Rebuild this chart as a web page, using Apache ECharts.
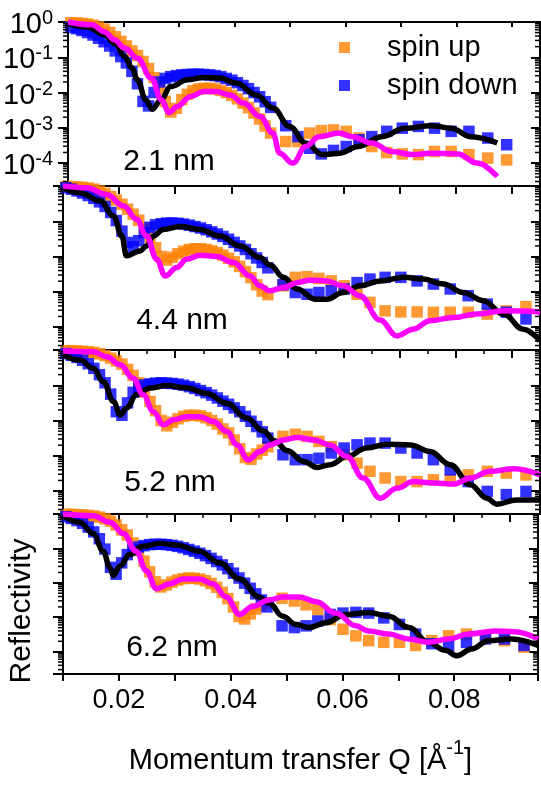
<!DOCTYPE html>
<html>
<head>
<meta charset="utf-8">
<script src="https://cdn.jsdelivr.net/npm/echarts@6/dist/echarts.min.js"></script>
<style>
    html, body { margin: 0; padding: 0; background: #fff; }
    #chart { width: 541px; height: 785px; }
</style>
</head>
<body>
<div id="chart"></div>
<script>
// Q values of the measured points (1/A)
var dataQ = [0.0105, 0.0115, 0.0125, 0.0135, 0.0145, 0.0155, 0.0165, 0.0175, 0.0185, 0.0195,
    0.0205, 0.0215, 0.0225, 0.0235, 0.0245, 0.0255, 0.0265, 0.0275, 0.0285, 0.0295,
    0.0305, 0.0315, 0.0325, 0.0335, 0.0345, 0.0355, 0.0365, 0.0375, 0.0385, 0.0395,
    0.0405, 0.0415, 0.0425, 0.0435, 0.0445, 0.0455, 0.0465,
    0.0492, 0.0514, 0.0535, 0.0556, 0.0578, 0.0601, 0.0624, 0.0647, 0.0674, 0.0702,
    0.0731, 0.0760, 0.0790, 0.0822, 0.0856, 0.0890, 0.0925];

// measured reflectivity, log10 R (spin up = orange, spin down = blue)
var up1 = [-0.02, -0.03, -0.04, -0.06, -0.09, -0.14, -0.2, -0.3, -0.42, -0.55, -0.68, -0.82, -0.95, -1.12, -1.32, -1.58, -1.9, -2.25, -2.55, -2.45,
    -2.2, -2.05, -1.95, -1.9, -1.88, -1.88, -1.9, -1.94, -2.0, -2.08, -2.18, -2.3, -2.43, -2.58, -2.75, -2.95, -3.15,
    -3.39, -3.39, -3.15, -3.08, -3.06, -3.1, -3.29, -3.53, -3.7, -3.74, -3.76, -3.67, -3.67, -3.76, -3.86, -3.91];
var down1 = [-0.15, -0.19, -0.24, -0.3, -0.37, -0.46, -0.56, -0.68, -0.82, -0.98, -1.16, -1.4, -1.75, -2.25, -2.38, -2.0, -1.7, -1.6, -1.55, -1.52,
    -1.5, -1.49, -1.48, -1.48, -1.49, -1.5, -1.52, -1.55, -1.6, -1.65, -1.72, -1.8, -1.89, -2.0, -2.12, -2.26, -2.42,
    -2.94, -3.25, -3.58, -3.74, -3.64, -3.53, -3.34, -3.25, -3.1, -3.01, -2.96, -3.01, -3.1, -3.1, -3.29, -3.48];
var up2 = [-0.01, -0.02, -0.03, -0.04, -0.06, -0.09, -0.14, -0.21, -0.3, -0.4, -0.52, -0.66, -0.8, -0.97, -1.2, -1.45, -1.75, -2.0, -2.1, -2.02,
    -1.92, -1.85, -1.8, -1.78, -1.78, -1.8, -1.84, -1.89, -1.96, -2.05, -2.15, -2.28, -2.43, -2.6, -2.8, -2.98, -3.08,
    -2.83, -2.59, -2.57, -2.62, -2.69, -2.83, -3.07, -3.3, -3.54, -3.57, -3.57, -3.58, -3.58, -3.58, -3.63, -3.54, -3.42];
var down2 = [-0.05, -0.09, -0.14, -0.2, -0.27, -0.35, -0.45, -0.58, -0.75, -0.98, -1.28, -1.6, -1.73, -1.55, -1.32, -1.17, -1.1, -1.07, -1.05, -1.05,
    -1.06, -1.08, -1.11, -1.15, -1.19, -1.24, -1.3, -1.36, -1.43, -1.51, -1.6, -1.7, -1.8, -1.92, -2.04, -2.17, -2.32,
    -2.8, -3.02, -3.07, -3.02, -2.97, -2.92, -2.74, -2.64, -2.59, -2.59, -2.69, -2.78, -2.92, -3.11, -3.35, -3.58, -3.77];
var up3 = [-0.02, -0.02, -0.03, -0.04, -0.05, -0.07, -0.11, -0.16, -0.23, -0.31, -0.4, -0.55, -0.72, -0.93, -1.19, -1.46, -1.72, -2.0, -2.15, -2.05,
    -1.95, -1.88, -1.85, -1.85, -1.87, -1.92, -2.0, -2.1, -2.24, -2.35, -2.55, -2.8, -3.05, -3.1, -2.95, -2.84, -2.74,
    -2.45, -2.39, -2.45, -2.59, -2.74, -2.97, -3.21, -3.44, -3.63, -3.73, -3.73, -3.68, -3.68, -3.54, -3.44, -3.49, -3.54];
var down3 = [-0.1, -0.15, -0.21, -0.29, -0.39, -0.52, -0.7, -0.93, -1.25, -1.75, -1.85, -1.5, -1.2, -1.06, -0.99, -0.96, -0.94, -0.93, -0.94, -0.95,
    -0.97, -1.0, -1.04, -1.09, -1.15, -1.21, -1.28, -1.36, -1.45, -1.54, -1.64, -1.75, -1.88, -2.02, -2.17, -2.32, -2.5,
    -2.97, -3.11, -3.11, -3.07, -2.92, -2.78, -2.69, -2.64, -2.64, -2.78, -2.92, -3.11, -3.4, -3.73, -4.01, -4.1, -4.01];
var up4 = [-0.01, -0.01, -0.02, -0.03, -0.04, -0.06, -0.09, -0.14, -0.21, -0.32, -0.46, -0.61, -0.84, -1.06, -1.37, -1.68, -1.97, -2.12, -2.06, -1.98,
    -1.92, -1.88, -1.86, -1.87, -1.89, -1.94, -2.02, -2.13, -2.28, -2.46, -2.7, -2.98, -3.05, -2.9, -2.76, -2.66, -2.58,
    -2.45, -2.53, -2.64, -2.78, -3.07, -3.35, -3.54, -3.68, -3.73, -3.73, -3.82, -3.68, -3.54, -3.49, -3.54, -3.68, -3.87];
var down4 = [-0.08, -0.13, -0.19, -0.27, -0.38, -0.52, -0.72, -1.02, -1.55, -1.75, -1.42, -1.18, -1.04, -0.96, -0.92, -0.89, -0.88, -0.88, -0.89, -0.91,
    -0.94, -0.98, -1.03, -1.08, -1.14, -1.21, -1.29, -1.38, -1.48, -1.59, -1.72, -1.86, -2.01, -2.16, -2.32, -2.5, -2.7,
    -3.25, -3.3, -3.25, -3.11, -2.92, -2.88, -2.86, -2.88, -3.02, -3.21, -3.49, -3.77, -3.82, -3.73, -3.63, -3.63, -3.82];

// fitted curves, [Q, log10 R] (down = black, up = magenta)
var fitDown1 = [[0.0100, -0.04], [0.0136, -0.15], [0.0166, -0.37], [0.0185, -0.62], [0.0202, -0.98], [0.0215, -1.3], [0.0225, -1.64], [0.0240, -2.21], [0.0252, -2.47], [0.0267, -2.21], [0.0285, -1.83], [0.0315, -1.64], [0.0344, -1.57], [0.0374, -1.59], [0.0404, -1.74], [0.0439, -2.07], [0.0469, -2.44], [0.0499, -2.96], [0.0528, -3.43], [0.0558, -3.76], [0.0588, -3.72], [0.0623, -3.53], [0.0665, -3.25], [0.0707, -3.01], [0.0754, -2.94], [0.0790, -3.01], [0.0826, -3.25], [0.0873, -3.43]];
var fitUp1 = [[0.0100, 0], [0.0143, -0.08], [0.0166, -0.28], [0.0184, -0.51], [0.0202, -0.74], [0.0225, -1.03], [0.0250, -1.59], [0.0268, -2.21], [0.0282, -2.57], [0.0296, -2.4], [0.0321, -2.11], [0.0344, -1.97], [0.0367, -1.97], [0.0392, -2.07], [0.0416, -2.3], [0.0446, -2.68], [0.0469, -3.15], [0.0481, -3.72], [0.0505, -4.0], [0.0528, -3.53], [0.0552, -3.25], [0.0588, -3.15], [0.0612, -3.25], [0.0647, -3.43], [0.0683, -3.67], [0.0719, -3.76], [0.0754, -3.72], [0.0802, -3.74], [0.0837, -4.0], [0.0873, -4.38]];
var fitDown2 = [[0.0100, -0.05], [0.0130, -0.19], [0.0166, -0.42], [0.0190, -0.85], [0.0205, -1.42], [0.0213, -1.98], [0.0237, -1.84], [0.0249, -1.7], [0.0261, -1.42], [0.0279, -1.23], [0.0309, -1.15], [0.0344, -1.23], [0.0380, -1.42], [0.0416, -1.7], [0.0451, -2.03], [0.0469, -2.24], [0.0493, -2.59], [0.0517, -2.92], [0.0549, -3.21], [0.0570, -3.21], [0.0599, -3.02], [0.0629, -2.83], [0.0665, -2.69], [0.0707, -2.59], [0.0742, -2.64], [0.0778, -2.78], [0.0813, -3.02], [0.0849, -3.25], [0.0885, -3.63], [0.0920, -4.06], [0.0950, -4.39]];
var fitUp2 = [[0.0100, 0], [0.0142, -0.05], [0.0178, -0.24], [0.0208, -0.57], [0.0231, -0.94], [0.0249, -1.42], [0.0267, -2.08], [0.0282, -2.55], [0.0303, -2.31], [0.0320, -2.08], [0.0344, -1.96], [0.0374, -2.0], [0.0404, -2.17], [0.0433, -2.55], [0.0451, -2.83], [0.0469, -2.97], [0.0493, -2.88], [0.0517, -2.74], [0.0540, -2.67], [0.0570, -2.69], [0.0599, -2.83], [0.0629, -3.11], [0.0665, -3.8], [0.0695, -4.25], [0.0724, -4.06], [0.0754, -3.82], [0.0795, -3.73], [0.0837, -3.63], [0.0885, -3.54], [0.0950, -3.57]];
var fitDown3 = [[0.0100, -0.14], [0.0130, -0.28], [0.0154, -0.52], [0.0172, -0.9], [0.0190, -1.46], [0.0202, -1.84], [0.0213, -1.65], [0.0231, -1.27], [0.0255, -1.08], [0.0285, -1.01], [0.0320, -1.07], [0.0356, -1.23], [0.0392, -1.51], [0.0427, -1.93], [0.0457, -2.3], [0.0478, -2.58], [0.0499, -2.85], [0.0529, -3.16], [0.0553, -3.33], [0.0576, -3.25], [0.0606, -3.02], [0.0641, -2.78], [0.0677, -2.67], [0.0719, -2.69], [0.0754, -2.88], [0.0790, -3.25], [0.0826, -3.82], [0.0855, -4.2], [0.0873, -4.37], [0.0908, -4.25], [0.0950, -4.25]];
var fitUp3 = [[0.0100, -0.03], [0.0154, -0.05], [0.0178, -0.19], [0.0202, -0.42], [0.0225, -0.8], [0.0243, -1.27], [0.0261, -1.75], [0.0279, -2.12], [0.0297, -1.98], [0.0320, -1.89], [0.0344, -1.89], [0.0368, -2.03], [0.0392, -2.31], [0.0410, -2.69], [0.0430, -3.11], [0.0451, -2.88], [0.0469, -2.69], [0.0493, -2.55], [0.0517, -2.48], [0.0547, -2.55], [0.0576, -2.69], [0.0606, -3.02], [0.0635, -3.63], [0.0665, -4.2], [0.0695, -3.92], [0.0724, -3.73], [0.0760, -3.77], [0.0796, -3.8], [0.0826, -3.63], [0.0861, -3.44], [0.0903, -3.37], [0.0950, -3.54]];
var fitDown4 = [[0.0100, -0.05], [0.0130, -0.24], [0.0154, -0.57], [0.0172, -1.08], [0.0184, -1.56], [0.0190, -1.79], [0.0202, -1.51], [0.0219, -1.18], [0.0243, -0.94], [0.0273, -0.85], [0.0303, -0.9], [0.0344, -1.08], [0.0380, -1.42], [0.0416, -1.89], [0.0451, -2.41], [0.0469, -2.59], [0.0493, -2.97], [0.0517, -3.21], [0.0540, -3.3], [0.0570, -3.16], [0.0606, -2.92], [0.0647, -2.86], [0.0683, -2.97], [0.0719, -3.3], [0.0754, -3.73], [0.0784, -3.96], [0.0805, -4.12], [0.0831, -3.92], [0.0861, -3.68], [0.0903, -3.63], [0.0950, -3.82]];
var fitUp4 = [[0.0100, 0], [0.0154, -0.05], [0.0184, -0.24], [0.0208, -0.57], [0.0231, -1.08], [0.0249, -1.65], [0.0267, -2.17], [0.0291, -2.03], [0.0314, -1.89], [0.0344, -1.89], [0.0368, -2.03], [0.0392, -2.41], [0.0416, -2.92], [0.0439, -2.69], [0.0469, -2.5], [0.0493, -2.41], [0.0523, -2.41], [0.0553, -2.55], [0.0588, -2.88], [0.0624, -3.25], [0.0647, -3.4], [0.0683, -3.49], [0.0719, -3.63], [0.0754, -3.73], [0.0790, -3.63], [0.0826, -3.49], [0.0873, -3.4], [0.0908, -3.42], [0.0950, -3.63]];

var panelLabels = ['2.1 nm', '4.4 nm', '5.2 nm', '6.2 nm'];

// minor tick positions of the log axes: 2..9 x 10^n
var minorMultipliers = [2, 3, 4, 5, 6, 7, 8, 9];
var minorDecades = [-5, -4, -3, -2, -1];

var FONT = '"Liberation Sans", Arial, sans-serif';
var Y_MIN = 2.24e-5;
var panelTop = [22, 186, 350, 514];
var panelHeight = 164;
var labelPos = [[169, 162], [182, 321], [170, 483], [172, 648]];

var ups = [up1, up2, up3, up4];
var downs = [down1, down2, down3, down4];
var fitUps = [fitUp1, fitUp2, fitUp3, fitUp4];
var fitDowns = [fitDown1, fitDown2, fitDown3, fitDown4];

function toPoints(qs, logs) {
    var out = [];
    for (var i = 0; i < logs.length; i++) {
        out.push([qs[i], Math.pow(10, logs[i])]);
    }
    return out;
}
function fitPoints(pairs) {
    return pairs.map(function (p) { return [p[0], Math.pow(10, p[1])]; });
}

var minorTicks = [];
minorDecades.forEach(function (n) {
    minorMultipliers.forEach(function (k) {
        var v = k * Math.pow(10, n);
        if (v > Y_MIN && v < 1) minorTicks.push([0.01, v]);
    });
});

// short minor ticks, outward on the left and inward on the right
function renderMinorTick(params, api) {
    var l = api.coord([0.01, api.value(1)]);
    var r = api.coord([0.095, api.value(1)]);
    var st = {stroke: '#000', lineWidth: 1.5};
    return {
        type: 'group',
        children: [
            {type: 'line', shape: {x1: l[0] - 5, y1: l[1], x2: l[0], y2: l[1]}, style: st},
            {type: 'line', shape: {x1: r[0] - 5, y1: r[1], x2: r[0], y2: r[1]}, style: st}
        ]
    };
}

var chart = echarts.init(document.getElementById('chart'));

var grids = [], xAxes = [], yAxes = [], series = [], graphics = [];
var blackLine = {color: '#000', width: 2};

for (var i = 0; i < 4; i++) {
    grids.push({left: 63, right: 1, top: panelTop[i], height: panelHeight});

    // bottom axis
    xAxes.push({
        gridIndex: i, type: 'value', position: 'bottom',
        min: 0.01, max: 0.095, interval: 0.01,
        axisLine: {show: true, onZero: false, lineStyle: blackLine},
        axisTick: {show: i === 3, inside: false, length: 7, lineStyle: {color: '#000', width: 2}},
        axisLabel: {
            show: i === 3, margin: 13, fontSize: 27, fontFamily: FONT, color: '#000',
            formatter: function (v) {
                var k = v * 100;
                if (Math.abs(k - Math.round(k)) > 1e-6 || Math.round(k) % 2 !== 0) return '';
                return v.toFixed(2);
            }
        },
        splitLine: {show: false},
        name: i === 3 ? 'Momentum transfer Q [Å{sup|-1}]' : '',
        nameLocation: 'middle', nameGap: 64,
        nameTextStyle: {
            fontSize: 29, fontFamily: FONT, color: '#000', lineHeight: 46,
            rich: {sup: {fontSize: 20, fontFamily: FONT, color: '#000', verticalAlign: 'top', lineHeight: 20}}
        }
    });
    // top axis (frame with inward ticks)
    xAxes.push({
        gridIndex: i, type: 'value', position: 'top',
        min: 0.01, max: 0.095, interval: 0.01,
        axisLine: {show: true, onZero: false, lineStyle: blackLine},
        axisTick: {show: true, inside: true, length: i === 0 ? 5 : 8, lineStyle: {color: '#000', width: 2}},
        minorTick: {show: i >= 2, splitNumber: 2, length: 4, lineStyle: {color: '#000', width: 1.5}},
        axisLabel: {show: false},
        splitLine: {show: false}
    });

    // left log axis
    yAxes.push({
        gridIndex: i, type: 'log', logBase: 10, position: 'left',
        min: Y_MIN, max: 1, splitNumber: 5,
        axisLine: {show: true, onZero: false, lineStyle: blackLine},
        axisTick: {inside: false, length: 10, lineStyle: {color: '#000', width: 2}},
        axisLabel: {
            show: i === 0, showMinLabel: false, showMaxLabel: true, hideOverlap: false,
            margin: 15, color: '#000',
            formatter: function (v) {
                var e = Math.log(v) / Math.LN10;
                if (Math.abs(e - Math.round(e)) > 1e-6) return '';
                return '{base|10}{sup|' + Math.round(e) + '}';
            },
            rich: {
                base: {fontSize: 29, fontFamily: FONT, color: '#000', lineHeight: 27, padding: [6, 0, 0, 0]},
                sup: {fontSize: 20, fontFamily: FONT, color: '#000', verticalAlign: 'top', lineHeight: 20}
            }
        },
        splitLine: {show: false}
    });
    // right log axis
    yAxes.push({
        gridIndex: i, type: 'log', logBase: 10, position: 'right',
        min: Y_MIN, max: 1, splitNumber: 5,
        axisLine: {show: true, onZero: false, lineStyle: blackLine},
        axisTick: {inside: true, length: 9, lineStyle: {color: '#000', width: 2}},
        axisLabel: {show: false},
        splitLine: {show: false}
    });

    series.push({
        name: 'spin up', type: 'scatter', xAxisIndex: 2 * i, yAxisIndex: 2 * i,
        symbol: 'rect', symbolSize: 11.5, itemStyle: {color: '#FF8000'},
        data: toPoints(dataQ, ups[i]), z: 2
    });
    series.push({
        name: 'spin down', type: 'scatter', xAxisIndex: 2 * i, yAxisIndex: 2 * i,
        symbol: 'rect', symbolSize: 11.5, itemStyle: {color: '#0000FF'},
        data: toPoints(dataQ, downs[i]), z: 2
    });
    series.push({
        name: 'fit down ' + (i + 1), type: 'line', xAxisIndex: 2 * i, yAxisIndex: 2 * i,
        symbol: 'none', smooth: 0.4, smoothMonotone: 'x',
        lineStyle: {color: '#000', width: 5.5}, data: fitPoints(fitDowns[i]), z: 3
    });
    series.push({
        name: 'fit up ' + (i + 1), type: 'line', xAxisIndex: 2 * i, yAxisIndex: 2 * i,
        symbol: 'none', smooth: 0.4, smoothMonotone: 'x',
        lineStyle: {color: '#FF00FF', width: 5.5}, data: fitPoints(fitUps[i]), z: 4
    });
    series.push({
        name: 'minor ticks ' + (i + 1), type: 'custom', xAxisIndex: 2 * i, yAxisIndex: 2 * i,
        silent: true, clip: false, z: 6,
        renderItem: renderMinorTick, data: minorTicks
    });

    graphics.push({
        type: 'text', x: labelPos[i][0], y: labelPos[i][1], z: 10,
        style: {
            text: panelLabels[i], fontSize: 30, fontFamily: FONT, fill: '#000',
            align: 'center', verticalAlign: 'middle', textAlign: 'center', textVerticalAlign: 'middle'
        }
    });
}

graphics.push({
    type: 'text', x: 22, y: 611, rotation: Math.PI / 2, z: 10,
    style: {
        text: 'Reflectivity', fontSize: 30, fontFamily: FONT, fill: '#000',
        align: 'center', verticalAlign: 'middle', textAlign: 'center', textVerticalAlign: 'middle'
    }
});

var option = {
    backgroundColor: '#fff',
    animation: false,
    grid: grids,
    xAxis: xAxes,
    yAxis: yAxes,
    series: series,
    legend: {
        data: ['spin up', 'spin down'],
        orient: 'vertical', left: 339, top: 33, padding: 0, itemGap: 9,
        itemWidth: 11, itemHeight: 11, icon: 'rect', selectedMode: false,
        textStyle: {fontSize: 29, fontFamily: FONT, color: '#000', padding: [0, 0, 0, 32]}
    },
    graphic: graphics
};

chart.setOption(option);
</script>
</body>
</html>
